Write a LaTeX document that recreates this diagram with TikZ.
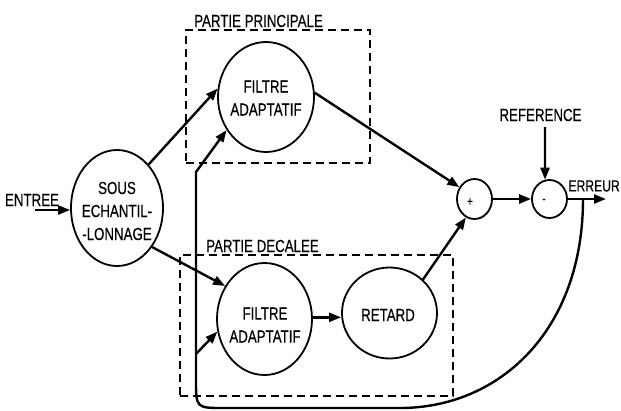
\documentclass[tikz,border=0pt]{standalone}
\usepackage{fontspec}
\setmainfont{Liberation Sans}[FakeStretch=0.76,FakeBold=0.3]
\usetikzlibrary{shapes.geometric,arrows.meta}
\begin{document}
\begin{tikzpicture}[x=1pt,y=-1pt,
 ell/.style={ellipse,draw,line width=1.8pt,inner sep=0pt},
 txt/.style={font=\fontsize{17.5}{23}\selectfont,align=center,inner sep=1pt},
 sml/.style={font=\fontsize{13}{13}\selectfont,inner sep=0pt},
 arr/.style={line width=2.4pt,-{Triangle[length=12pt,width=9pt]}},
 dashbox/.style={draw,dash pattern=on 8pt off 5pt,line width=2.2pt,rectangle,inner sep=0pt}]
\useasboundingbox (0,0) rectangle (621,410);
% grouping boxes
\node[dashbox,minimum width=184pt,minimum height=133pt] (pp) at (278,96.5) {};
\node[dashbox,minimum width=273pt,minimum height=141pt] (pd) at (316.5,325.5) {};
\node[txt,anchor=base west] (ppl) at (193,27) {PARTIE PRINCIPALE};
\node[txt,anchor=base west] (pdl) at (205,252) {PARTIE DECALEE};
% blocks
\node[ell,minimum width=92pt,minimum height=116pt] (sous) at (117,208) {};
\node[txt] (soust) at (117,211) {SOUS\\ECHANTIL-\\-LONNAGE};
\node[ell,minimum width=96pt,minimum height=110pt] (f1) at (266,97) {};
\node[txt] (f1t) at (266,98) {FILTRE\\ADAPTATIF};
\node[ell,minimum width=95pt,minimum height=112pt] (f2) at (264.5,319) {};
\node[txt] (f2t) at (265,325) {FILTRE\\ADAPTATIF};
\node[ell,minimum width=95pt,minimum height=91pt] (ret) at (389.5,313) {};
\node[txt] (rett) at (388,315) {RETARD};
\node[ell,minimum width=35pt,minimum height=40pt] (plus) at (474.5,199) {};
\node[sml] (plust) at (470,202) {+};
\node[ell,minimum width=35pt,minimum height=38pt] (minus) at (549.5,199) {};
\node[sml] (minust) at (544,201) {-};
% texts
\node[txt] (entree) at (32,200) {ENTREE};
\node[txt] (ref) at (540.5,115) {REFERENCE};
\node[txt,font=\fontsize{16}{20}\selectfont,anchor=east,inner sep=0pt] (err) at (620,186) {ERREUR};
% coordinates
\coordinate (ein) at (35,210);
\coordinate (eout) at (606,199);
\coordinate (fb) at (583,199);
\coordinate (refin) at (545,127);
\coordinate (bm) at (400,408);
\coordinate (tl) at (196,172);
\coordinate (br) at (196,354);
% connectors
\draw[arr] (ein) -- (sous.west |- ein);
\draw[arr] (sous.54) -- (f1.170);
\draw[arr] (sous.-48) -- (f2.140);
\draw[arr] (f1.5) -- (plus.142);
\draw[arr] (f2.2) -- (f2.2 -| ret.west);
\draw[arr] (ret.45) -- (plus.-115);
\draw[arr] (plus.east) -- (minus.west);
\draw[arr] (refin) -- (minus.103);
\draw[arr] (minus.east) -- (eout);
\draw[arr] (fb) .. controls (583,330) and (500,408) .. (bm) -- (224,408) .. controls (196,408) .. (196,380) -- (tl) -- (f1.220);
\draw[arr] (br) -- (f2.195);
\end{tikzpicture}
\end{document}
